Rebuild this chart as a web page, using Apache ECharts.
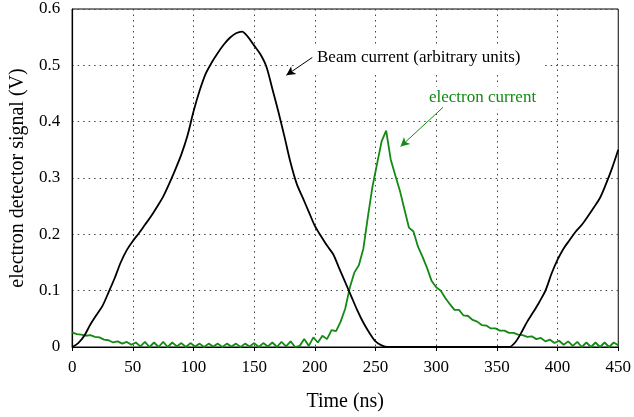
<!DOCTYPE html>
<html>
<head>
<meta charset="utf-8">
<script src="https://cdn.jsdelivr.net/npm/echarts@6/dist/echarts.min.js"></script>
<style>
html,body{margin:0;padding:0;background:#fff;}
#chart{width:634px;height:417px;}
</style>
</head>
<body>
<div id="chart"></div>
<script>
// Beam current (black), sampled every 5 ns from 0 to 450 ns
const beamStart = 0, beamStep = 5;
const beamValues = [
  0, 0.007, 0.02, 0.04, 0.057, 0.073, 0.097, 0.122, 0.15, 0.172,
  0.188, 0.202, 0.217, 0.232, 0.249, 0.267, 0.29, 0.315, 0.342, 0.375,
  0.418, 0.455, 0.485, 0.505, 0.522, 0.537, 0.549, 0.557, 0.56, 0.55,
  0.535, 0.52, 0.498, 0.458, 0.417, 0.373, 0.327, 0.29, 0.265, 0.24,
  0.215, 0.197, 0.18, 0.165, 0.14, 0.115, 0.09, 0.065, 0.043, 0.025,
  0.01, 0.003,
  0, 0, 0, 0, 0, 0, 0, 0, 0, 0, 0, 0, 0, 0, 0, 0, 0, 0, 0, 0, 0,
  0.008, 0.025, 0.045, 0.062, 0.08, 0.1, 0.13, 0.155, 0.175, 0.19,
  0.205, 0.217, 0.232, 0.248, 0.265, 0.29, 0.318, 0.35
];

// Electron current (green), sampled every 3.75 ns from 0 to 450 ns
const elecStart = 0, elecStep = 3.75;
const electronValues = [
  0.026, 0.023, 0.022, 0.020, 0.021, 0.018, 0.017, 0.013, 0.012, 0.008,
  0.010, 0.006, 0.009, 0.004, 0.008, 0.001, 0.009, 0.0, 0.008,
  0, 0.009, 0, 0.008, 0.001, 0.007, 0, 0.007, 0.001, 0.006, 0,
  0.006, 0.001, 0.006, 0, 0.006, 0.001, 0.006, 0, 0.006, 0.001,
  0.007, 0, 0.007, 0.001, 0.008, 0, 0.009, 0.001, 0.01, 0,
  0.002, 0.014, 0.002, 0.017, 0.008, 0.02, 0.014, 0.03, 0.028, 0.045,
  0.068, 0.105, 0.132, 0.145, 0.175, 0.232, 0.285, 0.325, 0.365, 0.384,
  0.333, 0.305, 0.278, 0.245, 0.212, 0.205, 0.178, 0.16, 0.14, 0.117,
  0.106, 0.1, 0.087, 0.076, 0.066, 0.066, 0.056, 0.055, 0.048, 0.045,
  0.039, 0.038, 0.033, 0.033, 0.029, 0.029, 0.025, 0.025, 0.022, 0.021,
  0.018, 0.019, 0.014, 0.016, 0.01, 0.013, 0.007, 0.011, 0.004, 0.01,
  0.002, 0.009, 0, 0.008, 0, 0.008, 0, 0.008, 0, 0.008, 0.003
];

// Annotation arrows in data coordinates [from, to]
const beamArrow = [[197.9, 0.514], [176.5, 0.4825]];
const elecArrow = [[305.6, 0.4254], [270.6, 0.3558]];

const xTitle = 'Time (ns)';
const yTitle = 'electron detector signal (V)';
const beamLabel = 'Beam current (arbitrary units)';
const elecLabel = 'electron current';

const GREEN = '#138a13';
const FONT = '"Liberation Serif", "DejaVu Serif", serif';

const beamData = beamValues.map((v, i) => [beamStart + i * beamStep, v]);
const elecData = electronValues.map((v, i) => [elecStart + i * elecStep, v]);

const gridDots = { color: '#444', width: 1, type: [1.5, 4] };

const chart = echarts.init(document.getElementById('chart'), null, { renderer: 'canvas' });
chart.setOption({
  animation: false,
  backgroundColor: '#fff',
  grid: { left: 72, right: 14, top: 9, bottom: 68, show: true, borderColor: '#000', borderWidth: 1, backgroundColor: 'transparent' },
  xAxis: {
    type: 'value', min: 0, max: 450, interval: 50,
    name: xTitle, nameLocation: 'middle', nameGap: 45,
    nameTextStyle: { fontFamily: FONT, fontSize: 20, color: '#000' },
    axisLine: { show: true, lineStyle: { color: '#000', width: 1.2 } },
    axisTick: { show: true, length: 4, lineStyle: { color: '#000' } },
    axisLabel: { fontFamily: FONT, fontSize: 17, color: '#000', margin: 12 },
    splitLine: { show: true, lineStyle: gridDots }
  },
  yAxis: {
    type: 'value', min: 0, max: 0.6, interval: 0.1,
    name: yTitle, nameLocation: 'middle', nameGap: 43,
    nameTextStyle: { fontFamily: FONT, fontSize: 20, color: '#000' },
    axisLine: { show: true, lineStyle: { color: '#000', width: 1.2 } },
    axisTick: { show: false },
    axisLabel: { fontFamily: FONT, fontSize: 17, color: '#000', margin: 12,
      formatter: v => (Math.round(v * 10) / 10).toString() },
    splitLine: { show: true, lineStyle: gridDots }
  },
  graphic: [
    { type: 'rect', shape: { x: 295, y: 45, width: 248, height: 28 }, style: { fill: '#fff' }, z: 1 },
    { type: 'text', x: 317, y: 58, z: 1,
      style: { text: beamLabel, font: '17px ' + FONT, fill: '#000', verticalAlign: 'middle', align: 'left' } },
    { type: 'text', x: 427, y: 98, z: 1,
      style: { text: elecLabel, font: '17px ' + FONT, fill: GREEN, verticalAlign: 'middle', align: 'left',
        backgroundColor: '#fff', padding: [3, 2, 3, 2] } }
  ],
  series: [
    {
      type: 'line', name: 'beam', data: beamData, showSymbol: false, smooth: 0.3,
      lineStyle: { color: '#000', width: 1.8 }, itemStyle: { color: '#000' }, z: 3,
      markLine: {
        silent: true, symbol: ['none', 'arrow'], symbolSize: [7, 9],
        lineStyle: { color: '#000', width: 1, type: 'solid' }, label: { show: false },
        data: [[{ coord: beamArrow[0] }, { coord: beamArrow[1] }]]
      }
    },
    {
      type: 'line', name: 'electron', data: elecData, showSymbol: false,
      lineStyle: { color: GREEN, width: 1.8 }, itemStyle: { color: GREEN }, z: 2,
      markLine: {
        silent: true, symbol: ['none', 'arrow'], symbolSize: [7, 9],
        lineStyle: { color: GREEN, width: 1, type: 'solid' }, label: { show: false },
        data: [[{ coord: elecArrow[0] }, { coord: elecArrow[1] }]]
      }
    }
  ]
});
</script>
</body>
</html>
